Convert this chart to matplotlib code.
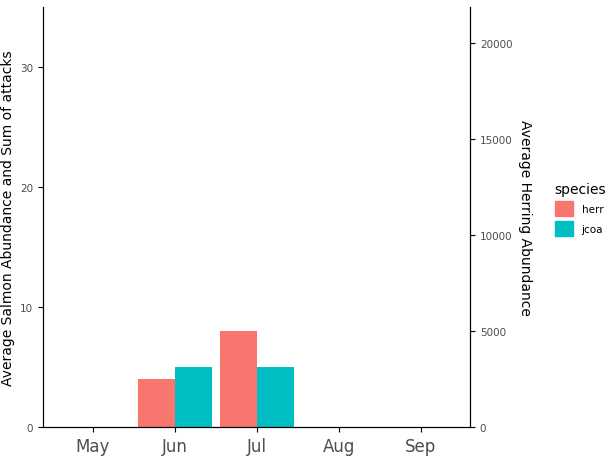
import numpy as np
import matplotlib.pyplot as plt
from matplotlib.patches import Patch

months = ["May", "Jun", "Jul", "Aug", "Sep"]
herr = [0, 4, 8, 0, 0]
jcoa = [0, 5, 5, 0, 0]
species = ["herr", "jcoa"]
colors = ["#F8766D", "#00BFC4"]

fig = plt.figure(figsize=(6.16, 4.77), dpi=100)
ax = fig.add_axes([0.0698, 0.1027, 0.6933, 0.8803])
x = np.arange(1, len(months) + 1)
w = 0.45
ax.bar(x - w / 2, herr, w, color=colors[0])
ax.bar(x + w / 2, jcoa, w, color=colors[1])
ax.set_xlim(0.39, 5.6)
ax.set_ylim(0, 35)
ax.set_xticks(x)
ax.set_xticklabels(months, fontsize=12, color="#4d4d4d")
ax.set_yticks([0, 10, 20, 30])
ax.tick_params(axis="y", labelsize=7.5, labelcolor="#4d4d4d")
ax.set_ylabel("Average Salmon Abundance and Sum of attacks", fontsize=10)
for s in ["top"]:
    ax.spines[s].set_visible(False)

ax2 = ax.twinx()
ax2.set_ylim(0, 35 * 625)
ax2.set_yticks([0, 5000, 10000, 15000, 20000])
ax2.tick_params(axis="y", labelsize=7.5, labelcolor="#4d4d4d")
ax2.set_ylabel("Average Herring Abundance", fontsize=10, rotation=270, labelpad=14)
ax2.spines["top"].set_visible(False)

handles = [Patch(color=c) for c in colors]
fig.legend(handles, species, title="species", loc="center left",
           bbox_to_anchor=(0.885, 0.56), frameon=False, fontsize=7.5,
           title_fontsize=10, handlelength=1.8, handleheight=1.8, alignment="left")

fig.savefig("out.png", dpi=100)
